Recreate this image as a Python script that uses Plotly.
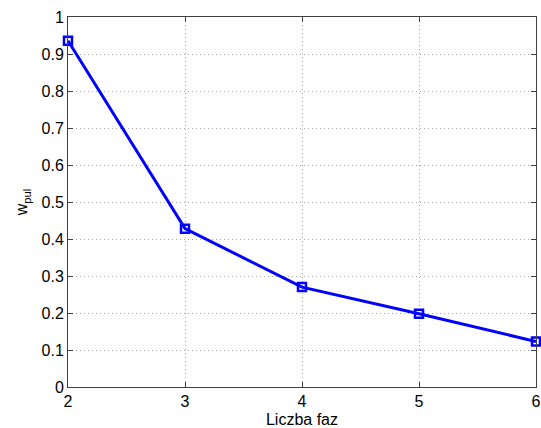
import plotly.graph_objects as go

phases = [2, 3, 4, 5, 6]
w_pul = [0.936, 0.428, 0.270, 0.198, 0.123]
x_ticks = [2, 3, 4, 5, 6]
y_ticks = [0, 0.1, 0.2, 0.3, 0.4, 0.5, 0.6, 0.7, 0.8, 0.9, 1]
y_ticktext = ["0", "0.1", "0.2", "0.3", "0.4", "0.5", "0.6", "0.7", "0.8", "0.9", "1"]

fig = go.Figure()
fig.add_trace(go.Scatter(
    x=phases, y=w_pul, mode="lines+markers",
    line=dict(color="#0000ff", width=3),
    marker=dict(symbol="square-open", size=8, color="#0000ff", line=dict(width=2.5, color="#0000ff")),
    cliponaxis=False,
))

font = dict(family="Liberation Sans, Arial, sans-serif", size=16, color="black")
axis_common = dict(
    showline=True, linecolor="#404040", linewidth=1, mirror="allticks",
    ticks="inside", ticklen=5, tickcolor="#404040",
    showgrid=True, gridcolor="#a8a8a8", griddash="1px,3px", gridwidth=1,
    zeroline=False, tickfont=font, automargin=False,
)
fig.update_xaxes(range=[2, 6], tickvals=x_ticks, title=dict(text="Liczba faz", font=font, standoff=5), **axis_common)
fig.update_yaxes(range=[0, 1], tickvals=y_ticks, ticktext=y_ticktext,
                 title=dict(text="w<sub>pul</sub>", font=font, standoff=9), **axis_common)

fig.update_layout(
    width=541, height=428,
    margin=dict(l=68, r=5, t=17, b=41),
    plot_bgcolor="white", paper_bgcolor="white",
    showlegend=False, font=font,
)
fig.write_html(
    "out.html",
    config={"displayModeBar": False},
    post_script="document.body.style.margin='0';document.body.style.overflow='hidden';"
    "document.documentElement.style.overflow='hidden';",
)
